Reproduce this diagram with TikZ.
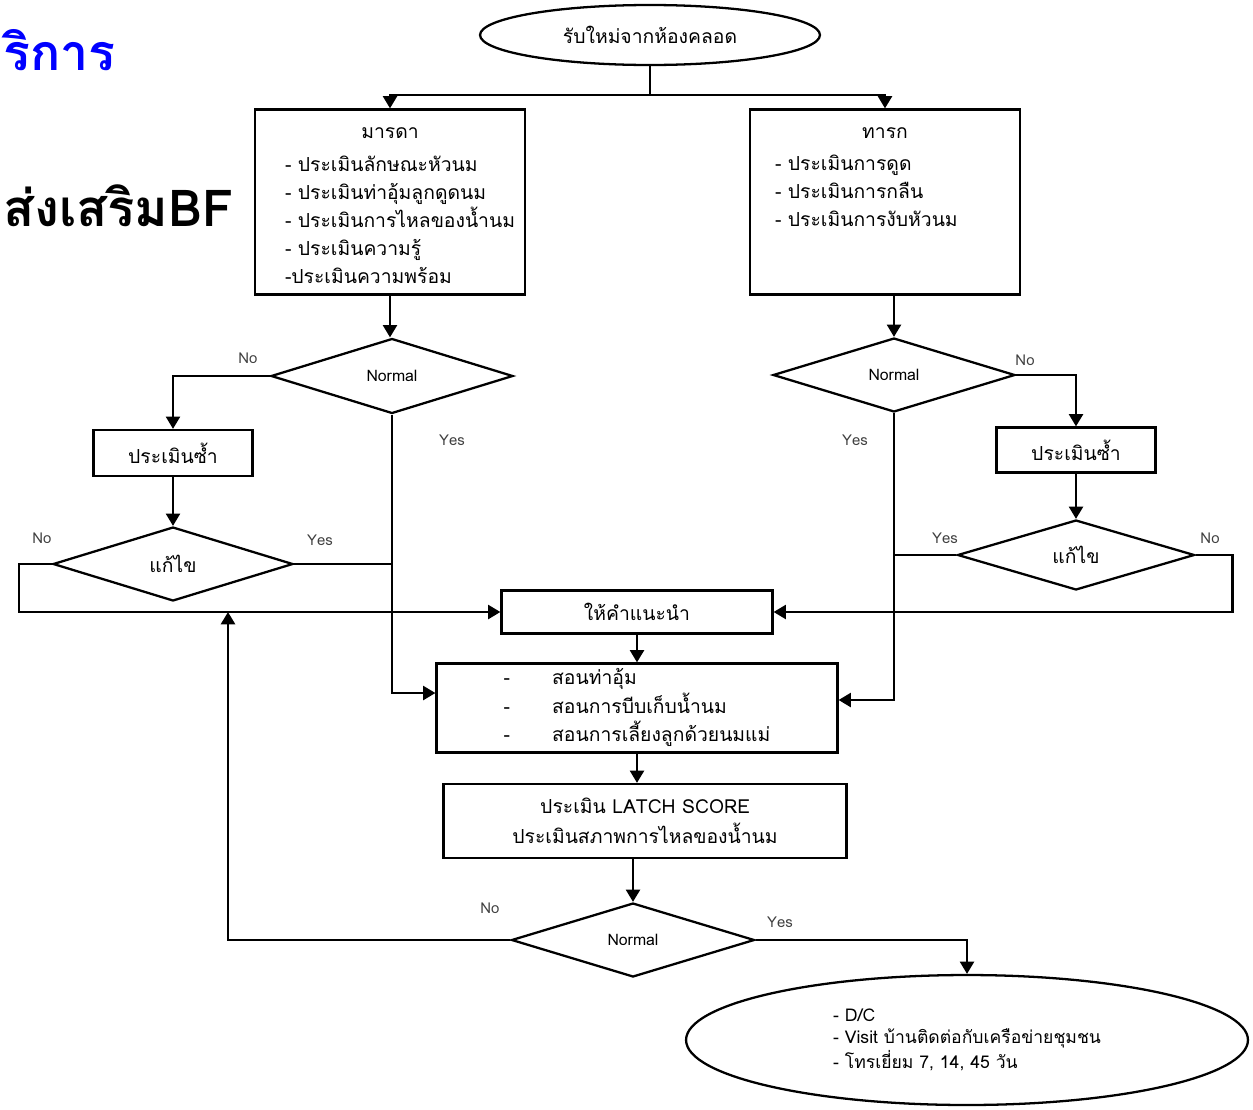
\documentclass[tikz,border=0pt]{standalone}
\usepackage{fontspec}
\newfontfamily\thaifont[Script=Thai]{Loma}
\usetikzlibrary{arrows.meta,shapes.geometric}

\begin{document}
\begin{tikzpicture}[x=0.02cm,y=-0.02cm,line width=1.3pt,
  font=\thaifont\fontsize{11}{16}\selectfont,
  box/.style={draw,rectangle,inner sep=0pt},
  decision/.style={draw,diamond,inner sep=0pt,font=\thaifont\fontsize{9}{11}\selectfont},
  oval/.style={draw,ellipse,inner sep=0pt},
  lbl/.style={font=\thaifont\fontsize{8.5}{10}\selectfont,text=black!75},
  arr/.style={-{Triangle[length=7pt,width=8pt]}}]
\useasboundingbox (0,0) rectangle (1253,1109);
% titles
\node[anchor=base west,inner sep=0pt,text=blue,font=\thaifont\bfseries\fontsize{28.5}{32}\selectfont] (ttlA) at (2,70) {ริการ};
\node[anchor=base west,inner sep=0pt,font=\thaifont\bfseries\fontsize{29}{33}\selectfont] (ttlB) at (2,226) {ส่งเสริมBF};
% start
\node[oval,minimum width=6.8cm,minimum height=1.2cm] (start) at (650,35) {รับใหม่จากห้องคลอด};
\coordinate (split) at (650,95);
% mother
\node[box,minimum width=5.4cm,minimum height=3.7cm] (mbox) at (390,202) {};
\node (mhdr) at (390,133) {มารดา};
\node[anchor=west,align=left] (mitems) at (278,220) {- ประเมินลักษณะหัวนม\\- ประเมินท่าอุ้มลูกดูดนม\\- ประเมินการไหลของน้ำนม\\- ประเมินความรู้\\-ประเมินความพร้อม};
% infant
\node[box,minimum width=5.4cm,minimum height=3.7cm] (ibox) at (885,202) {};
\node (ihdr) at (885,133) {ทารก};
\node[anchor=west,align=left] (iitems) at (768,191) {- ประเมินการดูด\\- ประเมินการกลืน\\- ประเมินการงับหัวนม};
% left branch
\node[decision,minimum width=4.84cm,minimum height=1.5cm] (mdec) at (392,376) {Normal};
\node[box,minimum width=3.18cm,minimum height=0.92cm] (mre) at (173,453) {ประเมินซ้ำ};
\node[decision,minimum width=4.8cm,minimum height=1.48cm,font=\thaifont\fontsize{11}{13}\selectfont] (mfix) at (173,564) {แก้ไข};
% right branch
\node[decision,minimum width=4.84cm,minimum height=1.48cm] (idec) at (894,375) {Normal};
\node[box,minimum width=3.18cm,minimum height=0.9cm] (ire) at (1076,450) {ประเมินซ้ำ};
\node[decision,minimum width=4.74cm,minimum height=1.4cm,font=\thaifont\fontsize{11}{13}\selectfont] (ifix) at (1076,555) {แก้ไข};
% middle
\node[box,minimum width=5.42cm,minimum height=0.86cm] (advice) at (637,612) {ให้คำแนะนำ};
\node[box,minimum width=8.02cm,minimum height=1.78cm,font=\thaifont\fontsize{11}{14.5}\selectfont] (teach) at (637,708) {\begin{tabular}{@{}l@{\hspace{24pt}}l@{}}-&สอนท่าอุ้ม\\-&สอนการบีบเก็บน้ำนม\\-&สอนการเลี้ยงลูกด้วยนมแม่\end{tabular}};
\node[box,minimum width=8.06cm,minimum height=1.48cm,align=center,font=\thaifont\fontsize{11}{17}\selectfont] (latch) at (645,821) {ประเมิน LATCH SCORE\\ประเมินสภาพการไหลของน้ำนม};
\node[decision,minimum width=4.86cm,minimum height=1.48cm] (fdec) at (633,940) {Normal};
\node[oval,minimum width=11.24cm,minimum height=2.6cm,align=left,font=\thaifont\fontsize{10}{12.5}\selectfont] (finish) at (967,1040) {- D/C\\- Visit บ้านติดต่อกับเครือข่ายชุมชน\\- โทรเยี่ยม 7, 14, 45 วัน};
\coordinate (back) at (228,612);
% labels
\node[lbl] (l1) at (248,358) {No};
\node[lbl] (l2) at (452,440) {Yes};
\node[lbl] (l3) at (42,538) {No};
\node[lbl] (l4) at (320,540) {Yes};
\node[lbl] (l5) at (855,440) {Yes};
\node[lbl] (l6) at (1025,360) {No};
\node[lbl] (l7) at (945,538) {Yes};
\node[lbl] (l8) at (1210,538) {No};
\node[lbl] (l9) at (490,908) {No};
\node[lbl] (l10) at (780,922) {Yes};
% connectors
\draw (start) -- (split);
\draw[arr] (split) -| (mbox.north);
\draw[arr] (split) -| (ibox.north);
\draw[arr] (mbox.south) -- (mbox.south |- mdec.north);
\draw[arr] (mdec.west) -| (mre.north);
\draw[arr] (mre.south) -- (mfix.north);
\draw[arr] (mfix.west) -- ++(-33,0) |- (advice.west);
\draw (mfix.east) -- (mfix.east -| mdec.south);
\draw[arr] (mdec.south) |- ([yshift=0.3cm]teach.west);
\draw[arr] (ibox.south -| idec.north) -- (idec.north);
\draw[arr] (idec.east) -| (ire.north);
\draw[arr] (ire.south) -- (ifix.north);
\draw (ifix.west) -- (ifix.west -| idec.south);
\draw[arr] (ifix.east) -- ++(37,0) |- (advice.east);
\draw[arr] (idec.south) |- ([yshift=0.16cm]teach.east);
\draw[arr] (advice.south) -- (teach.north);
\draw[arr] (teach.south) -- (teach.south |- latch.north);
\draw[arr] (latch.south -| fdec.north) -- (fdec.north);
\draw[arr] (fdec.west) -| (back);
\draw[arr] (fdec.east) -| (finish.north);
\end{tikzpicture}
\end{document}
